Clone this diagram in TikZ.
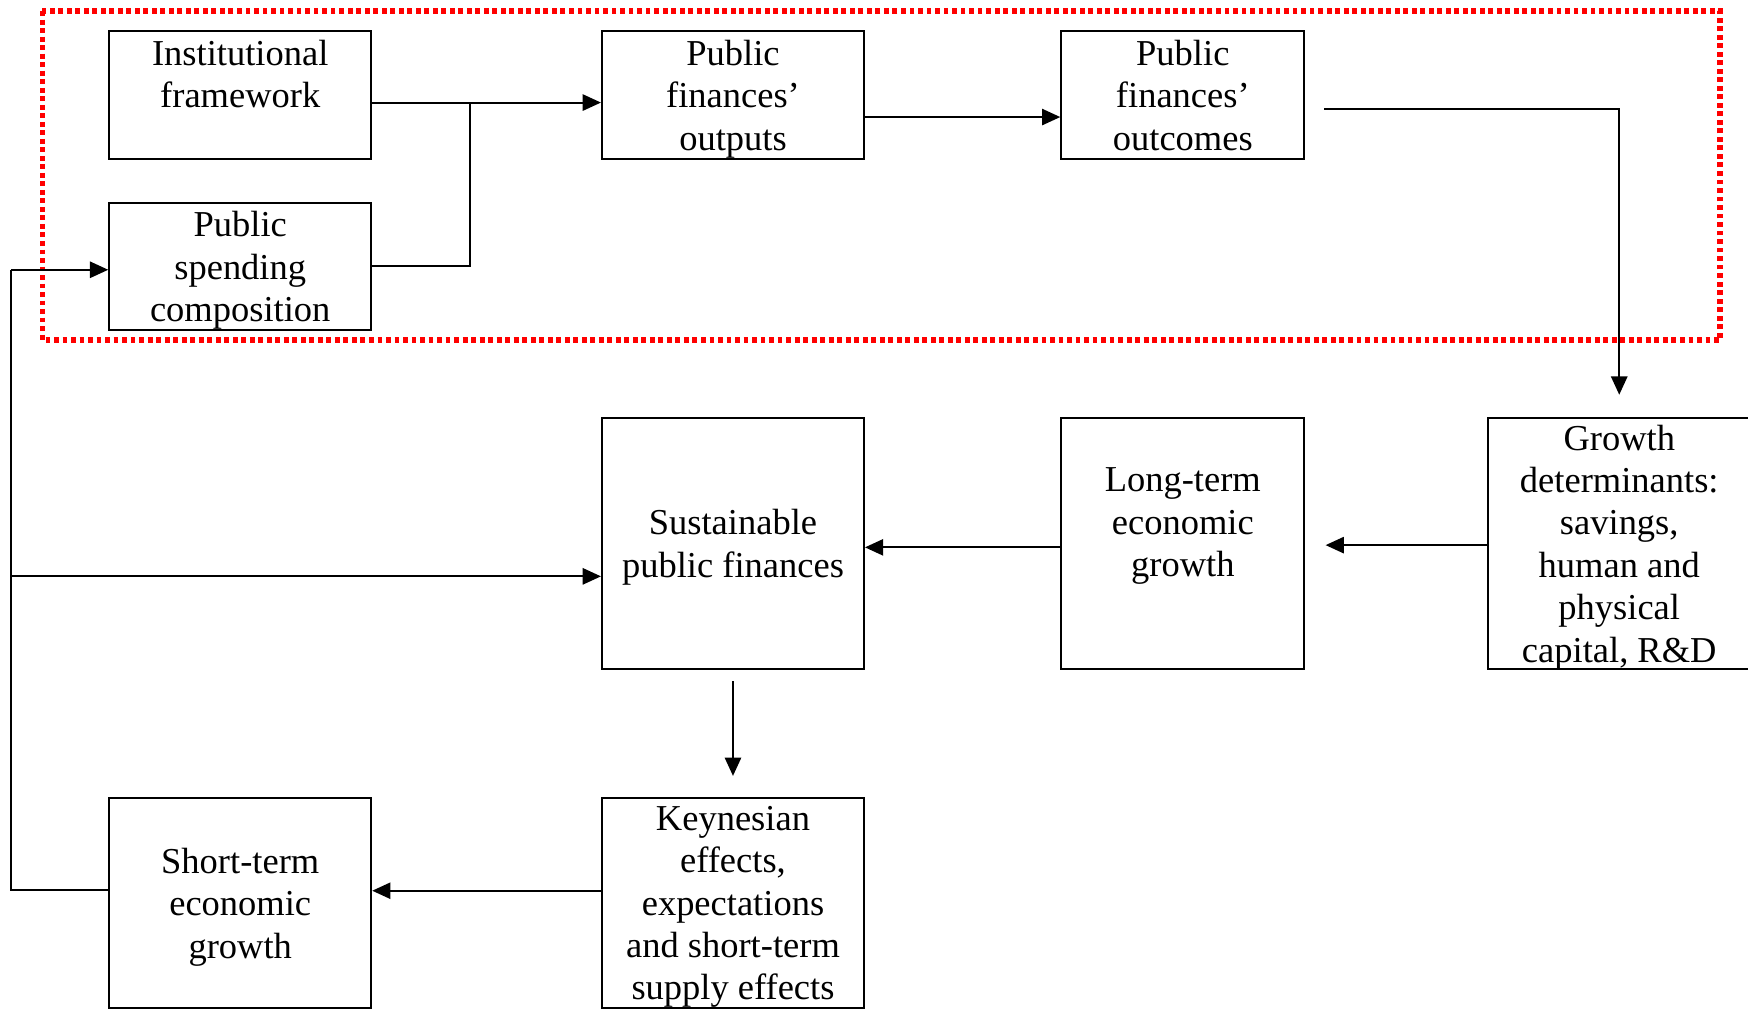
\documentclass[tikz,border=0pt]{standalone}
\usepackage{fontspec}
\setmainfont{Liberation Serif}
\usetikzlibrary{arrows.meta,calc}
\begin{document}
\begin{tikzpicture}[x=0.55pt,y=0.55pt,
  box/.style={draw,line width=1pt,align=center,inner sep=0pt,font=\fontsize{18}{20.9}\selectfont},
  arr/.style={line width=1pt,-{Triangle[length=9pt,width=8pt]}},
  ln/.style={line width=1pt},
  frame/.style={draw=red,line width=2.7pt,dash pattern=on 2.4pt off 1.8pt}]
\useasboundingbox (0,0) rectangle (1568,-905);
% red dotted frame
\draw[frame] (38,-10) rectangle (1543,-305);
% boxes
\node[box,minimum width=129.25pt,minimum height=63.25pt] (inst) at (215.5,-85.5) {Institutional\\framework\\\mbox{}};
\node[box,minimum width=129.25pt,minimum height=62.7pt] (spend) at (215.5,-239) {Public\\spending\\\smash{composition}};
\node[box,minimum width=129.25pt,minimum height=63.25pt] (outp) at (657.5,-85.5) {Public\\finances'\\\smash{outputs}};
\node[box,minimum width=119.9pt,minimum height=63.25pt] (outc) at (1061,-85.5) {Public\\finances'\\outcomes};
\node[box,minimum width=129.25pt,minimum height=123.75pt] (grow) at (1452.5,-487.5) {Growth\\determinants:\\savings,\\human and\\physical\\\smash{capital, R\&D}};
\node[box,minimum width=119.9pt,minimum height=123.75pt] (long) at (1061,-487.5) {Long-term\\economic\\growth\\\mbox{}};
\node[box,minimum width=129.25pt,minimum height=123.75pt] (sust) at (657.5,-487.5) {Sustainable\\\smash{public finances}};
\node[box,minimum width=129.25pt,minimum height=103.4pt] (keyn) at (657.5,-810) {Keynesian\\effects,\\expectations\\and short-term\\\smash{supply effects}};
\node[box,minimum width=129.25pt,minimum height=103.4pt] (short) at (215.5,-810) {Short-term\\economic\\\smash{growth}};
% helper coordinates
\coordinate (j) at (422,-92);
\coordinate (c1) at (1188,-98);
\coordinate (lt) at (10,-242);
\coordinate (lb) at (10,-798);
\coordinate (lm) at (10,-517);
% connectors
\draw[ln] (inst.east |- j) -- (j);
\draw[arr] (j) -- (outp.west |- j);
\draw[ln] (spend.east) -| (j);
\draw[arr] (outp.east |- 0,-105) -- (outc.west |- 0,-105);
\draw[arr,shorten >=11pt] (c1) -| (grow.north);
\draw[arr,shorten >=10pt] (grow.west |- 0,-489) -- (long.east |- 0,-489);
\draw[arr] (long.west |- 0,-491) -- (sust.east |- 0,-491);
\draw[arr,shorten <=5.5pt,shorten >=10.5pt] (sust.south) -- (keyn.north);
\draw[arr] (keyn.west |- 0,-799) -- (short.east |- 0,-799);
\draw[ln] (short.west |- lb) -- (lb) -- (lt);
\draw[arr] (lt) -- (spend.west |- lt);
\draw[arr] (lm) -- (sust.west |- lm);
\end{tikzpicture}
\end{document}
